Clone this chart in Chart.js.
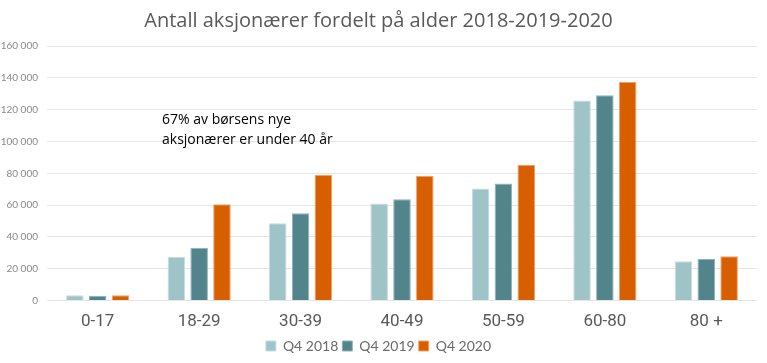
<!DOCTYPE html>
<html>
<head>
<meta charset="utf-8">
<script src="https://cdn.jsdelivr.net/npm/chart.js@4"></script>
<style>
  html, body { margin: 0; padding: 0; background: #fff; }
  #wrap { width: 767px; height: 363px; }
</style>
</head>
<body>
<div id="wrap"><canvas id="chart"></canvas></div>
<script>
// Chart data
var categories = ["0-17", "18-29", "30-39", "40-49", "50-59", "60-80", "80 +"];
var seriesNames = ["Q4 2018", "Q4 2019", "Q4 2020"];
var q4_2018 = [3300, 27600, 48600, 61000, 70500, 125700, 24800];
var q4_2019 = [3000, 33200, 54900, 63700, 73600, 129100, 26300];
var q4_2020 = [3300, 60600, 79000, 78400, 85400, 137300, 27800];
var noteLines = ["67% av børsens nye", "aksjonærer er under 40 år"];

// Colours for each series
var fills = ["#9fc4c8", "#51848b", "#d75f00"];
var edges = ["#c6dde0", "#8fb3b8", "#f0a16a"];

// Draws the text note inside the plot
var notePlugin = {
  id: "note",
  afterDraw: function(chart) {
    var ctx = chart.ctx;
    ctx.save();
    ctx.font = "14px 'Open Sans'";
    ctx.fillStyle = "#000";
    ctx.textBaseline = "alphabetic";
    ctx.fillText(noteLines[0], 162, 124);
    ctx.fillText(noteLines[1], 162, 144);
    ctx.restore();
  }
};

var series = [q4_2018, q4_2019, q4_2020];
var datasets = series.map(function(values, i) {
  return {
    label: seriesNames[i],
    data: values,
    backgroundColor: fills[i],
    borderColor: edges[i],
    borderWidth: 1,
    categoryPercentage: 0.675,
    barPercentage: 0.77
  };
});

new Chart(document.getElementById("chart"), {
  type: "bar",
  data: { labels: categories, datasets: datasets },
  options: {
    responsive: true,
    maintainAspectRatio: false,
    animation: false,
    layout: { padding: { left: 0, right: 10, top: 0, bottom: 0 } },
    plugins: {
      title: {
        display: true,
        text: "Antall aksjonærer fordelt på alder 2018-2019-2020",
        font: { family: "'Open Sans'", size: 20, weight: "normal" },
        color: "#595959",
        padding: { top: 9, bottom: 13 }
      },
      legend: {
        position: "bottom",
        labels: {
          boxWidth: 10,
          boxHeight: 10,
          padding: 4,
          font: { family: "Lato", size: 14 },
          color: "#6b6b6b"
        }
      },
      tooltip: { enabled: false }
    },
    scales: {
      x: {
        grid: { display: false },
        border: { display: false },
        ticks: {
          font: { family: "Roboto", size: 17 },
          color: "#595959",
          padding: 3
        }
      },
      y: {
        min: 0,
        max: 160000,
        grid: { color: "#e6e6e6", drawTicks: false },
        border: { display: false },
        afterFit: function(scale) { scale.width = 47; },
        ticks: {
          stepSize: 20000,
          padding: 9,
          font: { family: "Lato", size: 10 },
          color: "#8a8a8a",
          callback: function(v) {
            return String(v).replace(/\B(?=(\d{3})+(?!\d))/g, " ");
          }
        }
      }
    }
  },
  plugins: [notePlugin]
});
</script>
</body>
</html>
